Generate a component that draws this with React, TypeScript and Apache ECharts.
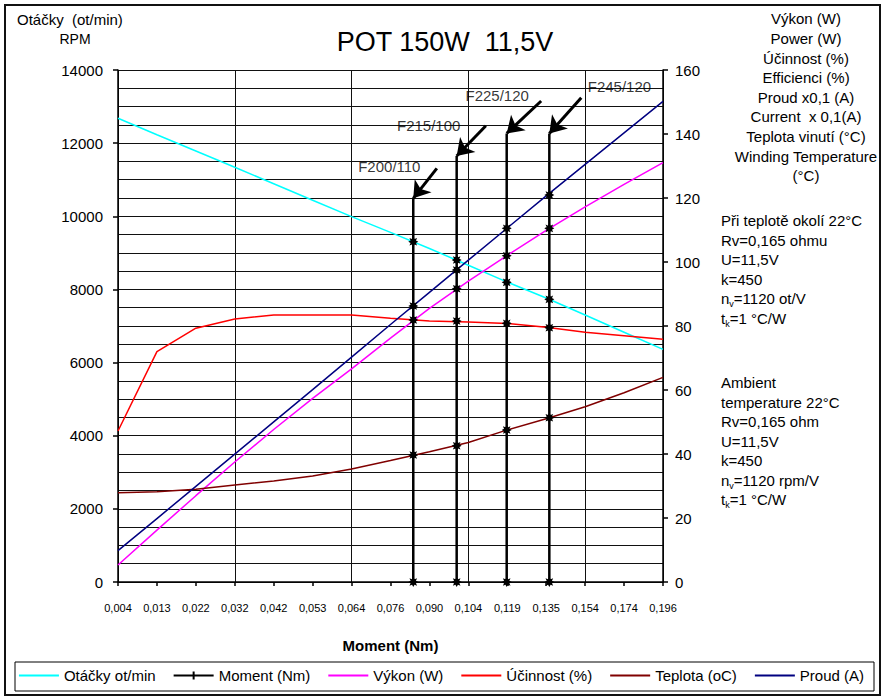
import React, { useEffect, useRef } from "react";
import * as echarts from "echarts";

// Category labels of the bottom axis (Moment, Nm)
const categories = ["0,004", "0,013", "0,022", "0,032", "0,042", "0,053", "0,064", "0,076", "0,090", "0,104", "0,119", "0,135", "0,154", "0,174", "0,196"];

// Series values (left axis scale 0-14000; right axis 0-160 shares the same grid)
const otacky = [12680, 12230, 11785, 11340, 10890, 10440, 9990, 9560, 9120, 8660, 8200, 7765, 7300, 6830, 6362];
const vykon = [465, 1420, 2360, 3280, 4170, 5020, 5830, 6670, 7480, 8230, 8930, 9615, 10260, 10870, 11465];
const ucinnost = [4130, 6300, 6940, 7190, 7300, 7300, 7300, 7210, 7140, 7110, 7070, 6965, 6830, 6735, 6640];
const teplota = [2443, 2470, 2535, 2652, 2762, 2900, 3090, 3320, 3560, 3815, 4160, 4465, 4790, 5175, 5595];
const proud = [857, 1735, 2615, 3495, 4380, 5260, 6150, 7040, 7920, 8800, 9680, 10560, 11420, 12280, 13140];

// Moment marker lines (position on category scale, top value, marked points)
const momentPos = [7.585, 8.7, 9.985, 11.08];
const momentTop = [10490, 11647, 12267, 12267];
const momentMarks = [
  [0, 3472, 7163, 7546, 9304],
  [0, 3727, 7136, 8020, 8530, 8803],
  [0, 4156, 7072, 8194, 8922, 9670],
  [0, 4493, 6953, 7729, 9670, 10580],
];
const fLabels = ["F200/110", "F215/100", "F225/120", "F245/120"];
const fLabelPos = [[6.97, 11356], [7.98, 12496], [9.74, 13316], [12.88, 13544]];
const arrowTail = [[8.19, 11312], [9.45, 12477], [10.87, 13152], [11.9, 13243]];

const leftTicks = { min: 0, max: 14000, interval: 2000 };
const rightTicks = { min: 0, max: 160, interval: 20 };

const FONT = "'Liberation Sans', Arial, Helvetica, sans-serif";
const STAR =
  "path://M0,-5L1.8,-1.8L5,0L1.8,1.8L0,5L-1.8,1.8L-5,0L-1.8,-1.8Z M-3.8,-3.8L0,-2.2L3.8,-3.8L2.2,0L3.8,3.8L0,2.2L-3.8,3.8L-2.2,0Z";
const LINE_ICON = "path://M0,0L40,0L40,2L0,2Z";
const MOMENT_ICON = "path://M0,3L40,3L40,5L0,5Z M19,0L21,0L21,8L19,8Z";

export default function App() {
  const ref = useRef<HTMLDivElement>(null);

  useEffect(() => {
    document.body.style.margin = "0";
    const chart = echarts.init(ref.current!, null, { renderer: "svg" });

    const colored = [
      { name: "Otáčky ot/min", data: otacky, color: "#00FFFF" },
      { name: "Výkon (W)", data: vykon, color: "#FF00FF" },
      { name: "Účinnost (%)", data: ucinnost, color: "#FF0000" },
      { name: "Teplota (oC)", data: teplota, color: "#800000" },
      { name: "Proud (A)", data: proud, color: "#000080" },
    ];

    const coloredSeries = colored.map((s) => ({
      type: "line",
      name: s.name,
      xAxisIndex: 0,
      yAxisIndex: 0,
      data: s.data.map((v, i) => [i, v]),
      showSymbol: false,
      symbol: "none",
      color: s.color,
      lineStyle: { color: s.color, width: 1.5 },
      z: 3,
      silent: true,
    }));

    const momentSeries = momentPos.map((x, k) => ({
      type: "line",
      name: "Moment (Nm)",
      xAxisIndex: 0,
      yAxisIndex: 0,
      data: [
        ...momentMarks[k].map((v) => [x, v]),
        { value: [x, momentTop[k]], symbol: "none" },
      ],
      color: "#000",
      symbol: STAR,
      symbolSize: 10,
      showSymbol: true,
      lineStyle: { color: "#000", width: 2.5 },
      itemStyle: { color: "#000" },
      z: 5,
      silent: true,
      markLine: {
        silent: true,
        symbol: ["none", "arrow"],
        symbolSize: 16,
        lineStyle: { color: "#000", width: 3, type: "solid" },
        label: { show: false },
        data: [[{ coord: arrowTail[k] }, { coord: [x, momentTop[k]] }]],
      },
    }));

    const labelSeries = {
      type: "scatter",
      name: "labels",
      xAxisIndex: 0,
      yAxisIndex: 0,
      data: fLabels.map((t, i) => [fLabelPos[i][0], fLabelPos[i][1], t]),
      symbolSize: 1,
      itemStyle: { color: "transparent" },
      label: {
        show: true,
        position: "inside",
        formatter: (p: any) => p.value[2],
        color: "#000",
        textBorderWidth: 0,
        fontSize: 15,
        fontFamily: FONT,
      },
      z: 6,
      silent: true,
    };

    const gridLine = { color: "#111", width: 1 };

    const option: any = {
      animation: false,
      backgroundColor: "#fff",
      textStyle: { fontFamily: FONT },
      grid: { left: 118, right: 220, top: 70, bottom: 116, containLabel: false },
      xAxis: [
        {
          type: "value",
          min: 0,
          max: categories.length - 1,
          interval: 1,
          position: "bottom",
          name: "Moment (Nm)",
          nameLocation: "middle",
          nameGap: 56,
          nameTextStyle: { fontSize: 15, fontWeight: "bold", color: "#000", fontFamily: FONT },
          axisLine: { show: true, onZero: false, lineStyle: { color: "#000", width: 1.5 } },
          axisTick: { show: true, length: 4, lineStyle: { color: "#000", width: 1.5 } },
          axisLabel: {
            color: "#000",
            fontSize: 11,
            margin: 20,
            formatter: (v: number) => categories[Math.round(v)] ?? "",
          },
          splitLine: { show: false },
        },
        {
          type: "value",
          min: 0,
          max: categories.length - 1,
          interval: 3,
          position: "bottom",
          axisLine: { show: false },
          axisTick: { show: false },
          axisLabel: { show: false },
          splitLine: { show: true, lineStyle: gridLine },
        },
      ],
      yAxis: [
        {
          type: "value",
          ...leftTicks,
          position: "left",
          axisLine: { show: true, onZero: false, lineStyle: { color: "#000", width: 1.5 } },
          axisTick: { show: true, length: 5, lineStyle: { color: "#000", width: 1.5 } },
          axisLabel: { color: "#000", fontSize: 15, margin: 15, formatter: (v: number) => String(v) },
          splitLine: { show: true, lineStyle: gridLine },
          minorTick: { show: false, splitNumber: 4 },
          minorSplitLine: { show: true, lineStyle: gridLine },
        },
        {
          type: "value",
          ...rightTicks,
          position: "right",
          axisLine: { show: true, onZero: false, lineStyle: { color: "#000", width: 1.5 } },
          axisTick: { show: true, length: 5, lineStyle: { color: "#000", width: 1.5 } },
          axisLabel: { color: "#000", fontSize: 15, margin: 12, formatter: (v: number) => String(v) },
          splitLine: { show: false },
        },
      ],
      legend: {
        data: [
          { name: "Otáčky ot/min", icon: LINE_ICON },
          { name: "Moment (Nm)", icon: MOMENT_ICON },
          { name: "Výkon (W)", icon: LINE_ICON },
          { name: "Účinnost (%)", icon: LINE_ICON },
          { name: "Teplota (oC)", icon: LINE_ICON },
          { name: "Proud (A)", icon: LINE_ICON },
        ],
        left: "center",
        top: 668,
        padding: 0,
        itemWidth: 40,
        itemHeight: 10,
        itemGap: 18,
        selectedMode: false,
        textStyle: { fontSize: 15, color: "#000", fontFamily: FONT },
      },
      graphic: [
        {
          type: "rect",
          shape: { x: 5, y: 5, width: 875, height: 690 },
          style: { fill: "none", stroke: "#111", lineWidth: 2 },
          silent: true,
        },
        {
          type: "rect",
          shape: { x: 15, y: 662, width: 859, height: 29 },
          style: { fill: "none", stroke: "#000", lineWidth: 1 },
          silent: true,
        },
        {
          type: "text",
          x: 17,
          y: 19,
          style: {
            text: "Otáčky  (ot/min)",
            font: `15px ${FONT}`,
            fill: "#000",
            textAlign: "left",
            align: "left",
            textVerticalAlign: "middle",
            verticalAlign: "middle",
          },
        },
        {
          type: "text",
          x: 75,
          y: 39,
          style: {
            text: "RPM",
            font: `14px ${FONT}`,
            fill: "#000",
            textAlign: "center",
            align: "center",
            textVerticalAlign: "middle",
            verticalAlign: "middle",
          },
        },
        {
          type: "text",
          x: 445,
          y: 42,
          style: {
            text: "POT 150W  11,5V",
            font: `27px ${FONT}`,
            fill: "#000",
            textAlign: "center",
            align: "center",
            textVerticalAlign: "middle",
            verticalAlign: "middle",
          },
        },
        {
          type: "text",
          x: 806,
          y: 9.2,
          style: {
            text: "Výkon (W)\nPower (W)\nÚčinnost (%)\nEfficienci (%)\nProud x0,1 (A)\nCurrent  x 0,1(A)\nTeplota vinutí (°C)\nWinding Temperature\n(°C)",
            font: `15px ${FONT}`,
            fill: "#000",
            lineHeight: 19.6,
            textAlign: "center",
            align: "center",
            textVerticalAlign: "top",
            verticalAlign: "top",
          },
        },
        {
          type: "text",
          x: 721,
          y: 211,
          style: {
            text: "Při teplotě okolí 22°C\nRv=0,165 ohmu\nU=11,5V\nk=450\n{m|n}{s|v}{m|=1120 ot/V}\n{m|t}{s|k}{m|=1 °C/W}",
            font: `15px ${FONT}`,
            fill: "#000",
            lineHeight: 19.5,
            textAlign: "left",
            align: "left",
            textVerticalAlign: "top",
            verticalAlign: "top",
            rich: {
              m: { fontSize: 15, fontFamily: FONT, lineHeight: 19.5, fill: "#000", color: "#000" },
              s: { fontSize: 9, fontFamily: FONT, lineHeight: 10, verticalAlign: "bottom", fill: "#000", color: "#000" },
            },
          },
        },
        {
          type: "text",
          x: 721,
          y: 373,
          style: {
            text: "Ambient\ntemperature 22°C\nRv=0,165 ohm\nU=11,5V\nk=450\n{m|n}{s|v}{m|=1120 rpm/V}\n{m|t}{s|k}{m|=1 °C/W}",
            font: `15px ${FONT}`,
            fill: "#000",
            lineHeight: 19.5,
            textAlign: "left",
            align: "left",
            textVerticalAlign: "top",
            verticalAlign: "top",
            rich: {
              m: { fontSize: 15, fontFamily: FONT, lineHeight: 19.5, fill: "#000", color: "#000" },
              s: { fontSize: 9, fontFamily: FONT, lineHeight: 10, verticalAlign: "bottom", fill: "#000", color: "#000" },
            },
          },
        },
      ],
      series: [...coloredSeries, ...momentSeries, labelSeries],
    };

    chart.setOption(option);
    return () => chart.dispose();
  }, []);

  return <div ref={ref} style={{ width: 883, height: 698 }} />;
}
